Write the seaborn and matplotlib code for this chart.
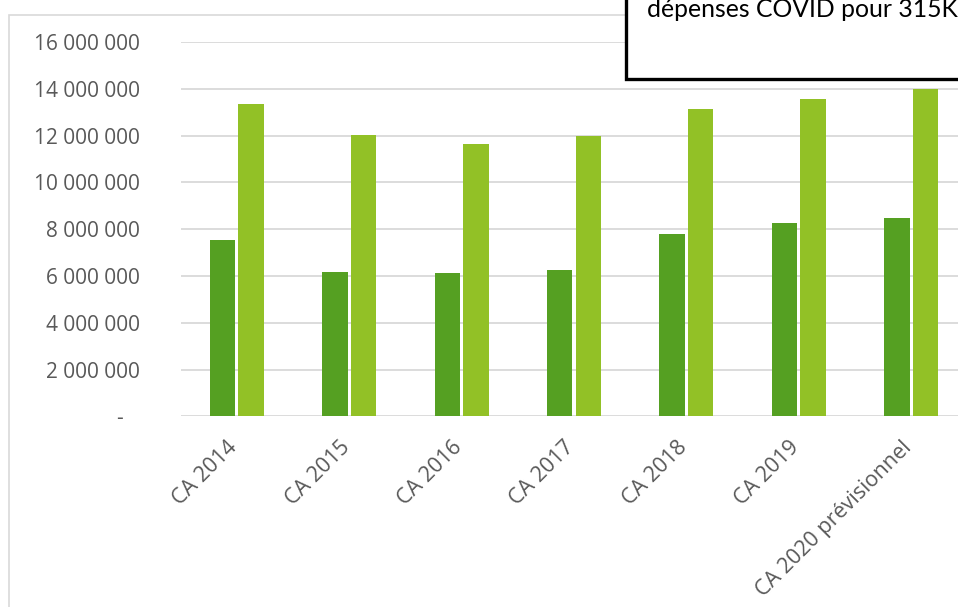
import pandas as pd
import matplotlib.pyplot as plt
import seaborn as sns
from matplotlib.patches import Rectangle
from matplotlib.transforms import ScaledTranslation

## Data
categories = ["CA 2014", "CA 2015", "CA 2016", "CA 2017", "CA 2018", "CA 2019", "CA 2020 prévisionnel"]
serie_1 = [7530000, 6180000, 6120000, 6260000, 7780000, 8280000, 8480000]
serie_2 = [13350000, 12030000, 11630000, 11980000, 13140000, 13580000, 14000000]
y_ticks = [0, 2000000, 4000000, 6000000, 8000000, 10000000, 12000000, 14000000, 16000000]

df = pd.DataFrame({
    "Catégorie": categories * 2,
    "Série": ["Série 1"] * len(categories) + ["Série 2"] * len(categories),
    "Valeur": serie_1 + serie_2
})

## Plot
sns.set_style("white")
plt.rcParams['font.family'] = ['Open Sans', 'DejaVu Sans']

fig = plt.figure(figsize=(9.58, 6.07), dpi=100)
ax = fig.add_axes([180.6 / 958, 190.6 / 607, 786.8 / 958, 374.4 / 607])

sns.barplot(data=df, x="Catégorie", y="Valeur", hue="Série",
            palette=["#55a022", "#92c126"], saturation=1, width=0.507, gap=0.11,
            linewidth=0, ax=ax, legend=False)

ax.set_ylim(0, 16000000)
ax.set_xlim(-0.5, len(categories) - 0.5)
ax.set_yticks(y_ticks)
ax.set_yticklabels([f"{v:,}".replace(",", " ") if v else "-   " for v in y_ticks])
ax.yaxis.grid(True, color="#d9d9d9", linewidth=1.3)
ax.set_axisbelow(True)
for s in ax.spines.values():
    s.set_visible(False)
ax.tick_params(axis="y", length=0, pad=29, labelsize=15, labelcolor="#595959")
ax.tick_params(axis="x", length=0, pad=15, labelsize=15.5, labelcolor="#595959")
shift = ScaledTranslation(-10 / 100, 0, fig.dpi_scale_trans)
for lab in ax.get_xticklabels():
    lab.set_rotation(45)
    lab.set_ha("right")
    lab.set_va("top")
    lab.set_rotation_mode("anchor")
    lab.set_transform(lab.get_transform() + shift)
ax.set_xlabel("")
ax.set_ylabel("")

## Chart border and text box
fig.add_artist(Rectangle((8.5 / 958, -0.2), 2, (607 - 14.5) / 607 + 0.2,
                         transform=fig.transFigure, facecolor="none",
                         edgecolor="#d9d9d9", linewidth=1.2, zorder=-1))
fig.add_artist(Rectangle((626 / 958, (607 - 78.5) / 607), 1, 1,
                         transform=fig.transFigure, facecolor="white",
                         edgecolor="black", linewidth=2.4, zorder=5))
fig.text(646.7 / 958, (607 - 17) / 607, "dépenses COVID pour 315K€",
         fontsize=17.8, family=["Lato", "DejaVu Sans"], color="black",
         va="baseline", ha="left", zorder=6)

plt.savefig("out.png", dpi=100)
